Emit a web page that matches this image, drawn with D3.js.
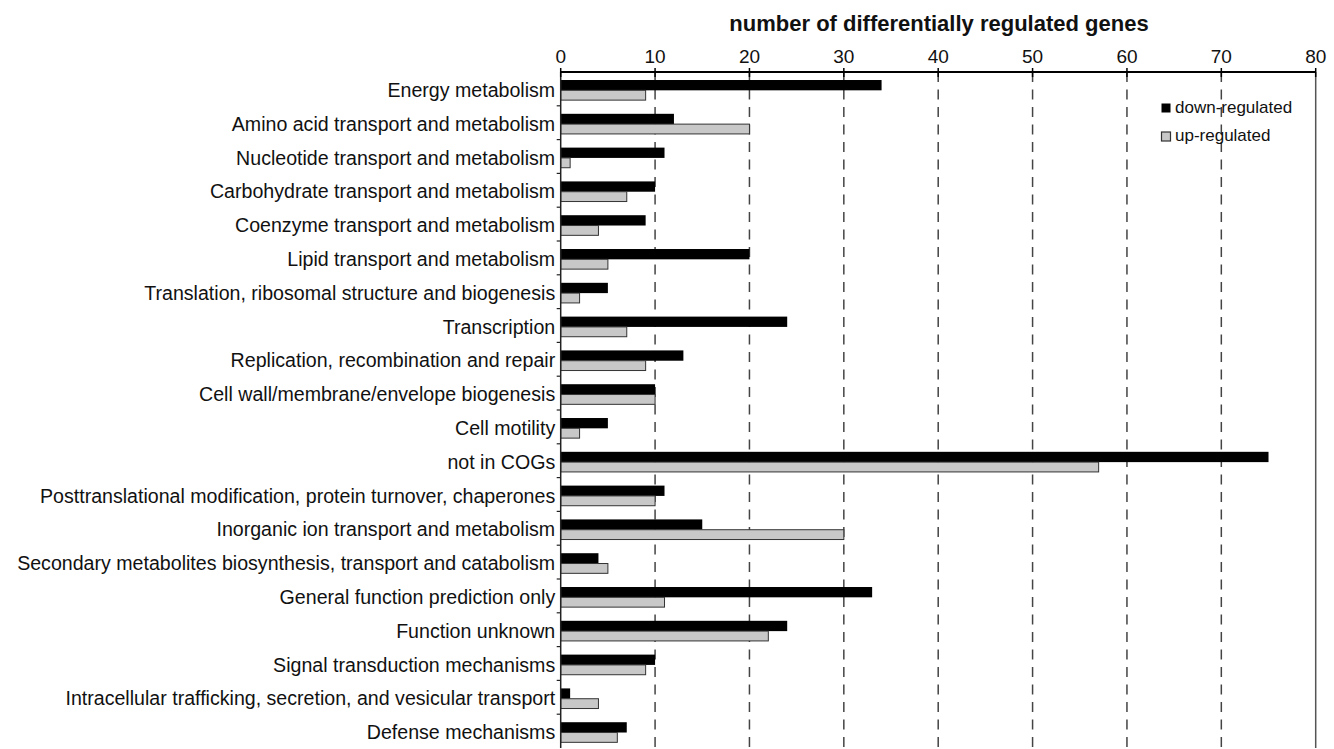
<!DOCTYPE html>
<html>
<head>
<meta charset="utf-8">
<script src="https://d3js.org/d3.v7.min.js"></script>
<style>
	body { margin: 0; background: #fff; }
	text { font-family: "Liberation Sans", Arial, sans-serif; fill: #111; }
</style>
</head>
<body>
<svg id="cog_chart_svg"></svg>
<script>
const categories = [
	"Energy metabolism",
	"Amino acid transport and metabolism",
	"Nucleotide transport and metabolism",
	"Carbohydrate transport and metabolism",
	"Coenzyme transport and metabolism",
	"Lipid transport and metabolism",
	"Translation, ribosomal structure and biogenesis",
	"Transcription",
	"Replication, recombination and repair",
	"Cell wall/membrane/envelope biogenesis",
	"Cell motility",
	"not in COGs",
	"Posttranslational modification, protein turnover, chaperones",
	"Inorganic ion transport and metabolism",
	"Secondary metabolites biosynthesis, transport and catabolism",
	"General function prediction only",
	"Function unknown",
	"Signal transduction mechanisms",
	"Intracellular trafficking, secretion, and vesicular transport",
	"Defense mechanisms"
];

const downRegulated = [34, 12, 11, 10, 9, 20, 5, 24, 13, 10, 5, 75, 11, 15, 4, 33, 24, 10, 1, 7];
const upRegulated = [9, 20, 1, 7, 4, 5, 2, 7, 9, 10, 2, 57, 10, 30, 5, 11, 22, 9, 4, 6];

const xTicks = [0, 10, 20, 30, 40, 50, 60, 70, 80];
const seriesNames = ["down-regulated", "up-regulated"];

function drawChart() {
	const width = 1334;
	const height = 749;

	const svg = d3.select("#cog_chart_svg")
		.attr("width", width)
		.attr("height", height);

	const x = d3.scaleLinear()
		.domain([0, 80])
		.range([560.7, 1315.7]);

	const y = d3.scaleBand()
		.domain(categories)
		.range([72, 748])
		.padding(0);

	const bw = y.bandwidth();
	const barH = bw * 0.305;
	const barTop = bw * 0.237;

	// dashed grid lines behind the bars
	svg.append("g")
		.selectAll("line")
		.data(xTicks.filter(t => t > 0 && t < 80))
		.enter().append("line")
		.attr("x1", d => x(d))
		.attr("x2", d => x(d))
		.attr("y1", y.range()[0])
		.attr("y2", y.range()[1])
		.attr("stroke", "#444")
		.attr("stroke-width", 1.5)
		.attr("stroke-dasharray", "10,7.5");

	// right frame line
	svg.append("line")
		.attr("x1", x(80))
		.attr("x2", x(80))
		.attr("y1", y.range()[0])
		.attr("y2", y.range()[1])
		.attr("stroke", "#555")
		.attr("stroke-width", 1.5);

	const rows = svg.append("g")
		.selectAll(".row")
		.data(categories)
		.enter().append("g")
		.attr("class", "row");

	// down-regulated bars
	rows.append("rect")
		.attr("x", x(0))
		.attr("y", d => y(d) + barTop)
		.attr("width", (d, i) => x(downRegulated[i]) - x(0))
		.attr("height", barH)
		.attr("fill", "#000");

	// up-regulated bars
	rows.append("rect")
		.attr("x", x(0))
		.attr("y", d => y(d) + barTop + barH)
		.attr("width", (d, i) => x(upRegulated[i]) - x(0))
		.attr("height", barH - 0.5)
		.attr("fill", "#c8c8c8")
		.attr("stroke", "#333")
		.attr("stroke-width", 1);

	// category labels
	rows.append("text")
		.attr("x", x(0) - 5.5)
		.attr("y", d => y(d) + bw / 2 + 1)
		.attr("dy", "0.36em")
		.attr("text-anchor", "end")
		.style("font-size", "19.6px")
		.text(d => d);

	// left axis with ticks at category boundaries
	const left = svg.append("g");
	left.append("line")
		.attr("x1", x(0))
		.attr("x2", x(0))
		.attr("y1", y.range()[0])
		.attr("y2", y.range()[1])
		.attr("stroke", "#222")
		.attr("stroke-width", 1.5);
	left.selectAll(".ytick")
		.data(categories.slice(1))
		.enter().append("line")
		.attr("class", "ytick")
		.attr("x1", x(0) - 4)
		.attr("x2", x(0))
		.attr("y1", d => y(d))
		.attr("y2", d => y(d))
		.attr("stroke", "#222")
		.attr("stroke-width", 1.2);

	// top axis
	const top = svg.append("g");
	top.append("line")
		.attr("x1", x(0))
		.attr("x2", x(80))
		.attr("y1", y.range()[0])
		.attr("y2", y.range()[0])
		.attr("stroke", "#000")
		.attr("stroke-width", 2);
	top.selectAll(".xtick")
		.data(xTicks)
		.enter().append("line")
		.attr("class", "xtick")
		.attr("x1", d => x(d))
		.attr("x2", d => x(d))
		.attr("y1", y.range()[0] - 4)
		.attr("y2", y.range()[0] + 5)
		.attr("stroke", "#000")
		.attr("stroke-width", 1.5);
	top.selectAll(".xlabel")
		.data(xTicks)
		.enter().append("text")
		.attr("class", "xlabel")
		.attr("x", d => x(d))
		.attr("y", 63)
		.attr("text-anchor", "middle")
		.style("font-size", "19px")
		.text(d => d);

	// axis title
	svg.append("text")
		.attr("x", 939)
		.attr("y", 31)
		.attr("text-anchor", "middle")
		.style("font-size", "22px")
		.style("font-weight", "bold")
		.text("number of differentially regulated genes");

	// legend
	const legend = svg.append("g")
		.attr("transform", "translate(1161, 103)");

	const legendItems = legend.selectAll(".legend-item")
		.data(seriesNames)
		.enter().append("g")
		.attr("class", "legend-item")
		.attr("transform", (d, i) => `translate(0, ${i * 28.5})`);

	legendItems.append("rect")
		.attr("x", 0.5)
		.attr("y", 0.5)
		.attr("width", 9)
		.attr("height", 9)
		.attr("fill", (d, i) => i === 0 ? "#000" : "#c8c8c8")
		.attr("stroke", (d, i) => i === 0 ? "none" : "#333")
		.attr("stroke-width", 1.2);

	legendItems.append("text")
		.attr("x", 14)
		.attr("y", 9.5)
		.style("font-size", "17px")
		.text(d => d);
}

drawChart();
</script>
</body>
</html>
